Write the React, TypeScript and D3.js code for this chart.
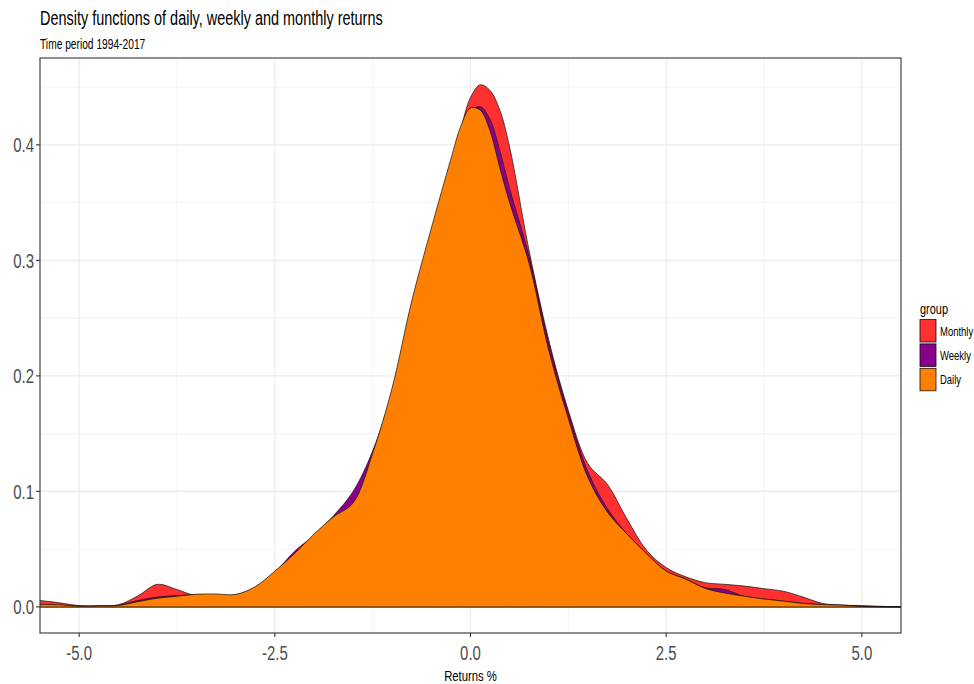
import * as d3 from 'd3';
import React, { useEffect, useRef } from 'react';

// returns grid (%) and the density readings of each series
const returnsGrid = [-5.75, -5.5, -5.25, -5, -4.75, -4.5, -4.25, -4, -3.75, -3.5, -3.25, -3, -2.75, -2.5, -2.25, -2, -1.75, -1.5, -1.25, -1, -0.75, -0.5, -0.25, -0.125, 0, 0.125, 0.25, 0.375, 0.5, 0.75, 1, 1.25, 1.5, 1.75, 2, 2.25, 2.5, 2.75, 3, 3.25, 3.5, 3.75, 4, 4.25, 4.5, 4.75, 5, 5.25, 5.5, 5.75];

const dailyDensity = [0.0022, 0.0022, 0.0018, 0.0006, 0.0008, 0.0012, 0.0045, 0.0075, 0.0092, 0.011, 0.0112, 0.0108, 0.0175, 0.031, 0.046, 0.063, 0.078, 0.09, 0.133, 0.19, 0.265, 0.328, 0.388, 0.416, 0.432, 0.43, 0.412, 0.38, 0.35, 0.297, 0.222, 0.163, 0.112, 0.082, 0.063, 0.046, 0.031, 0.024, 0.016, 0.012, 0.0092, 0.0068, 0.005, 0.003, 0.002, 0.0015, 0.0004, 0, 0, 0];

const weeklyDensity = [0.0015, 0.0015, 0.0012, 0.0008, 0.0008, 0.0015, 0.0055, 0.0085, 0.0098, 0.0105, 0.01, 0.0105, 0.017, 0.03, 0.048, 0.062, 0.079, 0.1, 0.135, 0.187, 0.262, 0.324, 0.384, 0.412, 0.429, 0.433, 0.422, 0.395, 0.362, 0.303, 0.228, 0.168, 0.117, 0.085, 0.063, 0.046, 0.031, 0.024, 0.0165, 0.015, 0.009, 0.0068, 0.005, 0.003, 0.002, 0.0015, 0.0008, 0.0002, 0, 0];

const monthlyDensity = [0.006, 0.0055, 0.0035, 0.001, 0.001, 0.0018, 0.0095, 0.0195, 0.015, 0.0095, 0.009, 0.01, 0.016, 0.028, 0.042, 0.058, 0.073, 0.088, 0.122, 0.18, 0.252, 0.318, 0.378, 0.413, 0.441, 0.452, 0.447, 0.43, 0.398, 0.308, 0.231, 0.17, 0.124, 0.106, 0.076, 0.049, 0.034, 0.026, 0.021, 0.0195, 0.018, 0.0158, 0.0135, 0.0085, 0.003, 0.0015, 0.001, 0.0005, 0, 0];

const groups = ['Monthly', 'Weekly', 'Daily'];
const groupColors = ['#FF3030', '#8B008B', '#FF8000'];

const xTicks = [-5, -2.5, 0, 2.5, 5];
const xMinorTicks = [-3.75, -1.25, 1.25, 3.75];
const yTicks = [0, 0.1, 0.2, 0.3, 0.4];
const yMinorTicks = [0.05, 0.15, 0.25, 0.35, 0.45];

const titleText = 'Density functions of daily, weekly and monthly returns';
const subtitleText = 'Time period 1994-2017';
const xTitle = 'Returns %';
const legendTitle = 'group';

function App() {
    const ref = useRef(null);

    useEffect(() => {
        const svg = d3.select(ref.current);
        svg.selectAll('*').remove();

        const left = 40, right = 901, top = 58, bottom = 633;
        const sx = 0.73; // the text in the picture is squeezed sideways
        const font = '"Liberation Sans", Arial, sans-serif';

        const x = d3.scaleLinear().domain([-5.5, 5.5]).range([left, right]);
        const y = d3.scaleLinear().domain([-0.0226, 0.4752]).range([bottom, top]);

        const addText = (str, tx, ty, size, anchor, fill) =>
            svg.append('text')
                .attr('transform', `translate(${tx},${ty}) scale(${sx},1)`)
                .attr('text-anchor', anchor)
                .style('font-family', font)
                .style('font-size', size + 'px')
                .attr('fill', fill)
                .text(str);

        svg.append('rect').attr('width', 974).attr('height', 684).attr('fill', 'white');

        // grid
        const grid = svg.append('g');
        grid.selectAll('.xmin').data(xMinorTicks).enter().append('line')
            .attr('x1', d => x(d)).attr('x2', d => x(d)).attr('y1', top).attr('y2', bottom)
            .attr('stroke', '#EBEBEB').attr('stroke-width', 0.6);
        grid.selectAll('.ymin').data(yMinorTicks).enter().append('line')
            .attr('y1', d => y(d)).attr('y2', d => y(d)).attr('x1', left).attr('x2', right)
            .attr('stroke', '#EBEBEB').attr('stroke-width', 0.6);
        grid.selectAll('.xmaj').data(xTicks).enter().append('line')
            .attr('x1', d => x(d)).attr('x2', d => x(d)).attr('y1', top).attr('y2', bottom)
            .attr('stroke', '#EBEBEB').attr('stroke-width', 1.1);
        grid.selectAll('.ymaj').data(yTicks).enter().append('line')
            .attr('y1', d => y(d)).attr('y2', d => y(d)).attr('x1', left).attr('x2', right)
            .attr('stroke', '#EBEBEB').attr('stroke-width', 1.1);

        // densities
        svg.append('clipPath').attr('id', 'panelClip')
            .append('rect').attr('x', left).attr('y', top).attr('width', right - left).attr('height', bottom - top);

        const area = d3.area()
            .x((d, i) => x(returnsGrid[i]))
            .y0(y(0))
            .y1(d => y(d))
            .curve(d3.curveCatmullRom.alpha(0.5));

        const series = [monthlyDensity, weeklyDensity, dailyDensity];
        const plot = svg.append('g').attr('clip-path', 'url(#panelClip)');
        series.forEach((s, i) => {
            plot.append('path')
                .attr('d', area(s))
                .attr('fill', groupColors[i])
                .attr('stroke', '#111')
                .attr('stroke-width', 0.7);
        });

        // panel border
        svg.append('rect')
            .attr('x', left).attr('y', top).attr('width', right - left).attr('height', bottom - top)
            .attr('fill', 'none').attr('stroke', '#333333').attr('stroke-width', 1.1);

        // axes
        xTicks.forEach(t => {
            svg.append('line').attr('x1', x(t)).attr('x2', x(t)).attr('y1', bottom).attr('y2', bottom + 4)
                .attr('stroke', '#333333').attr('stroke-width', 1.1);
            addText(t.toFixed(1), x(t), 660, 20.5, 'middle', '#4D4D4D');
        });
        yTicks.forEach(t => {
            svg.append('line').attr('x1', left - 4).attr('x2', left).attr('y1', y(t)).attr('y2', y(t))
                .attr('stroke', '#333333').attr('stroke-width', 1.1);
            addText(t.toFixed(1), 34, y(t) + 7.5, 20.5, 'end', '#4D4D4D');
        });

        addText(xTitle, (left + right) / 2, 681, 15.5, 'middle', '#000');
        addText(titleText, left, 25, 19.8, 'start', '#000');
        addText(subtitleText, left, 49, 14, 'start', '#000');

        // legend
        addText(legendTitle, 920, 314, 15, 'start', '#000');
        groups.forEach((g, i) => {
            const ky = 319.5 + i * 24.4;
            svg.append('rect')
                .attr('x', 920).attr('y', ky).attr('width', 16).attr('height', 22.5)
                .attr('fill', groupColors[i]).attr('stroke', '#111').attr('stroke-width', 0.8);
            addText(g, 940, ky + 16, 13, 'start', '#000');
        });
    }, []);

    return (
        <svg ref={ref} width={974} height={684} style={{ display: 'block', position: 'absolute', left: 0, top: 0 }}></svg>
    );
}

export default App;
